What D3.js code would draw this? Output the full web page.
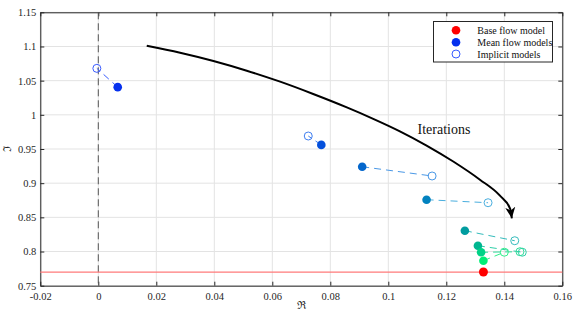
<!DOCTYPE html>
<html><head><meta charset="utf-8">
<script src="https://cdn.jsdelivr.net/npm/d3@7"></script>
<style>
html,body{margin:0;padding:0;background:#fff;}
svg text{font-family:"Liberation Serif","Times New Roman",serif !important;}
</style></head>
<body>
<svg id="chart" width="581" height="319"></svg>
<script>
// ---- data ----
const xTicks = [-0.02, 0, 0.02, 0.04, 0.06, 0.08, 0.1, 0.12, 0.14, 0.16];
const xTickLabels = ["-0.02","0","0.02","0.04","0.06","0.08","0.1","0.12","0.14","0.16"];
const yTicks = [0.75, 0.8, 0.85, 0.9, 0.95, 1, 1.05, 1.1, 1.15];
const yTickLabels = ["0.75","0.8","0.85","0.9","0.95","1","1.05","1.1","1.15"];

const meanX = [0.0067, 0.0769, 0.0910, 0.1132, 0.1264, 0.1309, 0.1320, 0.1328];
const meanY = [1.0405, 0.9560, 0.9240, 0.8758, 0.8305, 0.8085, 0.7989, 0.7866];
const implicitX = [-0.0005, 0.0724, 0.1151, 0.1344, 0.1436, 0.1462, 0.1454, 0.1400];
const implicitY = [1.0680, 0.9690, 0.9105, 0.8714, 0.8158, 0.7990, 0.7997, 0.7990];
const meanColors = ["#0530ee","#0450dc","#0366cc","#0282bf","#019c9f","#00b690","#00d286","#00ee76"];
const implicitColors = ["#3a5cff","#3f7ef0","#4a98e6","#4aaede","#35bcbc","#30cfa8","#30dc9a","#30ee8a"];

const baseX = [0.1328];
const baseY = [0.7700];
const baseLineY = 0.77;
const zeroLineX = 0;

const curveX = [0.0167, 0.0282, 0.0397, 0.0512, 0.0627, 0.0741, 0.0857, 0.0948, 0.1040, 0.1132, 0.1224, 0.1316, 0.1385, 0.1420, 0.1426];
const curveY = [1.1011, 1.0909, 1.0788, 1.0646, 1.0485, 1.0305, 1.0109, 0.9942, 0.9759, 0.9551, 0.9317, 0.9051, 0.8817, 0.8627, 0.8486];
const curveLabel = "Iterations";

const legendLabels = ["Base flow model", "Mean flow models", "Implicit models"];
const legendColors = ["#ff0000", "#0530ee", "#3a5cff"];

// ---- layout ----
const FONT = '"Liberation Serif", "Times New Roman", serif';
const svg = d3.select("#chart");
const L = 40.3, R = 562.3, T = 12.3, B = 285.7;
const x = d3.scaleLinear().domain([-0.02, 0.16]).range([L, R]);
const y = d3.scaleLinear().domain([0.75, 1.15]).range([B, T]);

// grid
const grid = svg.append("g");
grid.selectAll("line.vx").data(xTicks).join("line")
  .attr("x1", d => x(d)).attr("x2", d => x(d)).attr("y1", T).attr("y2", B)
  .attr("stroke", "#e3e3e3").attr("stroke-width", 1);
grid.selectAll("line.hy").data(yTicks).join("line")
  .attr("x1", L).attr("x2", R).attr("y1", d => y(d)).attr("y2", d => y(d))
  .attr("stroke", "#e3e3e3").attr("stroke-width", 1);

// axes
const fmtX = d => xTickLabels[xTicks.indexOf(d)];
const fmtY = d => yTickLabels[yTicks.indexOf(d)];
const gx = svg.append("g").attr("transform", `translate(0,${B})`)
  .call(d3.axisBottom(x).tickValues(xTicks).tickFormat(fmtX).tickSizeInner(-4).tickSizeOuter(0).tickPadding(6.5));
const gy = svg.append("g").attr("transform", `translate(${L},0)`)
  .call(d3.axisLeft(y).tickValues(yTicks).tickFormat(fmtY).tickSizeInner(-4).tickSizeOuter(0).tickPadding(4));
const gxt = svg.append("g").attr("transform", `translate(0,${T})`)
  .call(d3.axisTop(x).tickValues(xTicks).tickFormat("").tickSizeInner(-4).tickSizeOuter(0));
const gyr = svg.append("g").attr("transform", `translate(${R},0)`)
  .call(d3.axisRight(y).tickValues(yTicks).tickFormat("").tickSizeInner(-4).tickSizeOuter(0));
[gx, gy, gxt, gyr].forEach(g => {
  g.attr("font-family", FONT).attr("font-size", 10.5);
  g.select(".domain").attr("stroke", "#262626").attr("stroke-width", 1);
  g.selectAll(".tick line").attr("stroke", "#262626");
  g.selectAll(".tick text").attr("fill", "#262626");
});

// axis labels
svg.append("text").attr("x", (L + R) / 2).attr("y", 309).attr("text-anchor", "middle")
  .attr("font-family", FONT).attr("font-size", 11).attr("fill", "#262626").text("ℜ");
svg.append("text").attr("transform", `translate(11,${(T + B) / 2}) rotate(-90)`).attr("text-anchor", "middle")
  .attr("font-family", FONT).attr("font-size", 11).attr("fill", "#262626").text("ℑ");

// reference lines
svg.append("line").attr("x1", x(zeroLineX)).attr("x2", x(zeroLineX)).attr("y1", T).attr("y2", B)
  .attr("stroke", "#555").attr("stroke-width", 1).attr("stroke-dasharray", "7,4");
svg.append("line").attr("x1", L).attr("x2", R).attr("y1", y(baseLineY)).attr("y2", y(baseLineY))
  .attr("stroke", "#ff7a7a").attr("stroke-width", 1.2);

// curve with arrow
const defs = svg.append("defs");
defs.append("marker").attr("id", "arrow").attr("viewBox", "0 0 12 12")
  .attr("refX", 11).attr("refY", 6).attr("markerWidth", 12).attr("markerHeight", 12)
  .attr("markerUnits", "userSpaceOnUse").attr("orient", "auto")
  .append("path").attr("d", "M0,1 L11,6 L0,11 L3,6 Z").attr("fill", "#000");
const curvePts = curveX.map((d, i) => [x(d), y(curveY[i])]);
svg.append("path").attr("d", d3.line().curve(d3.curveMonotoneX)(curvePts))
  .attr("fill", "none").attr("stroke", "#000").attr("stroke-width", 2)
  .attr("marker-end", "url(#arrow)");
svg.append("text").attr("x", 417.5).attr("y", 134).attr("font-family", FONT).attr("font-size", 14)
  .attr("fill", "#111").text(curveLabel);

// connecting dashed lines
const pairs = meanX.map((d, i) => ({mx: d, my: meanY[i], ix: implicitX[i], iy: implicitY[i], mc: meanColors[i], ic: implicitColors[i]}));
svg.append("g").selectAll("line").data(pairs).join("line")
  .attr("x1", d => x(d.mx)).attr("y1", d => y(d.my)).attr("x2", d => x(d.ix)).attr("y2", d => y(d.iy))
  .attr("stroke", d => d.ic).attr("stroke-width", 1).attr("stroke-dasharray", "7,5");

// implicit circles
svg.append("g").selectAll("circle").data(pairs).join("circle")
  .attr("cx", d => x(d.ix)).attr("cy", d => y(d.iy)).attr("r", 4)
  .attr("fill", "none").attr("stroke", d => d.ic).attr("stroke-width", 1);

// mean flow dots
svg.append("g").selectAll("circle").data(pairs).join("circle")
  .attr("cx", d => x(d.mx)).attr("cy", d => y(d.my)).attr("r", 4.3)
  .attr("fill", d => d.mc);

// base flow
svg.append("g").selectAll("circle").data(baseX).join("circle")
  .attr("cx", d => x(d)).attr("cy", (d, i) => y(baseY[i])).attr("r", 4.5).attr("fill", "#ff0000");

// legend
const lg = svg.append("g").attr("font-family", FONT);
lg.append("rect").attr("x", 433.5).attr("y", 21.5).attr("width", 119).attr("height", 40.5)
  .attr("fill", "#fff").attr("stroke", "#262626").attr("stroke-width", 1);
const rows = [30.3, 42.3, 54];
legendLabels.forEach((t, i) => {
  if (i < 2) {
    lg.append("circle").attr("cx", 456).attr("cy", rows[i]).attr("r", 4.3).attr("fill", legendColors[i]);
  } else {
    lg.append("circle").attr("cx", 456).attr("cy", rows[i]).attr("r", 4).attr("fill", "none")
      .attr("stroke", legendColors[i]).attr("stroke-width", 1);
  }
  lg.append("text").attr("x", 477.3).attr("y", rows[i] + 3.5).attr("font-size", 10).attr("fill", "#111").text(t);
});
</script>
</body></html>
